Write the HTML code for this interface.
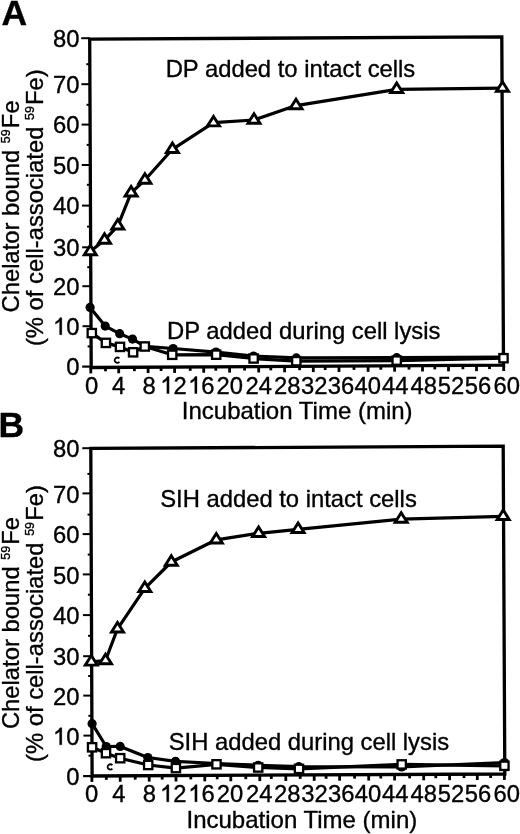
<!DOCTYPE html>
<html><head><meta charset="utf-8"><style>
html,body{margin:0;padding:0;background:#fff;}
svg{display:block;will-change:transform;}
text{font-family:"Liberation Sans", sans-serif;font-size:23.8px;fill:#000;stroke:#000;stroke-width:0.35px;}
</style></head><body>
<svg width="520" height="834" viewBox="0 0 520 834">
<rect width="520" height="834" fill="#fff"/>
<g><path d="M89.7 39.2 L501.8 36.8 L503.5 365.1 L91.2 367.5 Z" fill="none" stroke="#000" stroke-width="3.3" stroke-linejoin="miter"/>
<line x1="81.2" y1="38.2" x2="89.7" y2="38.2" stroke="#000" stroke-width="2"/>
<line x1="86.31" y1="64.2" x2="89.81" y2="64.2" stroke="#000" stroke-width="2"/>
<line x1="81.41" y1="84.2" x2="89.91" y2="84.2" stroke="#000" stroke-width="2"/>
<line x1="86.5" y1="104.8" x2="90" y2="104.8" stroke="#000" stroke-width="2"/>
<line x1="81.59" y1="124.6" x2="90.09" y2="124.6" stroke="#000" stroke-width="2"/>
<line x1="86.68" y1="144.9" x2="90.18" y2="144.9" stroke="#000" stroke-width="2"/>
<line x1="81.77" y1="165" x2="90.27" y2="165" stroke="#000" stroke-width="2"/>
<line x1="86.87" y1="184.8" x2="90.37" y2="184.8" stroke="#000" stroke-width="2"/>
<line x1="81.96" y1="205.6" x2="90.46" y2="205.6" stroke="#000" stroke-width="2"/>
<line x1="87.06" y1="226.6" x2="90.56" y2="226.6" stroke="#000" stroke-width="2"/>
<line x1="82.15" y1="247.3" x2="90.65" y2="247.3" stroke="#000" stroke-width="2"/>
<line x1="87.24" y1="267.2" x2="90.74" y2="267.2" stroke="#000" stroke-width="2"/>
<line x1="82.33" y1="286.2" x2="90.83" y2="286.2" stroke="#000" stroke-width="2"/>
<line x1="87.42" y1="306.3" x2="90.92" y2="306.3" stroke="#000" stroke-width="2"/>
<line x1="82.51" y1="326.2" x2="91.01" y2="326.2" stroke="#000" stroke-width="2"/>
<line x1="87.6" y1="346.4" x2="91.1" y2="346.4" stroke="#000" stroke-width="2"/>
<line x1="82.2" y1="366.6" x2="91.2" y2="366.6" stroke="#000" stroke-width="2.2"/>
<line x1="90.8" y1="367.9" x2="90.8" y2="373.4" stroke="#000" stroke-width="2.8"/>
<line x1="105.5" y1="367.82" x2="105.5" y2="371.32" stroke="#000" stroke-width="2.8"/>
<line x1="118.7" y1="367.74" x2="118.7" y2="373.24" stroke="#000" stroke-width="2.8"/>
<line x1="134.4" y1="367.65" x2="134.4" y2="371.15" stroke="#000" stroke-width="2.8"/>
<line x1="148.1" y1="367.57" x2="148.1" y2="373.07" stroke="#000" stroke-width="2.8"/>
<line x1="161.1" y1="367.49" x2="161.1" y2="370.99" stroke="#000" stroke-width="2.8"/>
<line x1="174.6" y1="367.41" x2="174.6" y2="372.91" stroke="#000" stroke-width="2.8"/>
<line x1="190.2" y1="367.32" x2="190.2" y2="370.82" stroke="#000" stroke-width="2.8"/>
<line x1="203.7" y1="367.25" x2="203.7" y2="372.75" stroke="#000" stroke-width="2.8"/>
<line x1="215.8" y1="367.17" x2="215.8" y2="370.67" stroke="#000" stroke-width="2.8"/>
<line x1="229.6" y1="367.09" x2="229.6" y2="372.59" stroke="#000" stroke-width="2.8"/>
<line x1="244.6" y1="367.01" x2="244.6" y2="370.51" stroke="#000" stroke-width="2.8"/>
<line x1="258.7" y1="366.92" x2="258.7" y2="372.42" stroke="#000" stroke-width="2.8"/>
<line x1="270.8" y1="366.85" x2="270.8" y2="370.35" stroke="#000" stroke-width="2.8"/>
<line x1="284.6" y1="366.77" x2="284.6" y2="372.27" stroke="#000" stroke-width="2.8"/>
<line x1="299.6" y1="366.69" x2="299.6" y2="370.19" stroke="#000" stroke-width="2.8"/>
<line x1="313.3" y1="366.61" x2="313.3" y2="372.11" stroke="#000" stroke-width="2.8"/>
<line x1="325.2" y1="366.54" x2="325.2" y2="370.04" stroke="#000" stroke-width="2.8"/>
<line x1="339" y1="366.46" x2="339" y2="371.96" stroke="#000" stroke-width="2.8"/>
<line x1="354" y1="366.37" x2="354" y2="369.87" stroke="#000" stroke-width="2.8"/>
<line x1="368.1" y1="366.29" x2="368.1" y2="371.79" stroke="#000" stroke-width="2.8"/>
<line x1="380.8" y1="366.21" x2="380.8" y2="369.71" stroke="#000" stroke-width="2.8"/>
<line x1="394.6" y1="366.13" x2="394.6" y2="371.63" stroke="#000" stroke-width="2.8"/>
<line x1="409" y1="366.05" x2="409" y2="369.55" stroke="#000" stroke-width="2.8"/>
<line x1="422.5" y1="365.97" x2="422.5" y2="371.47" stroke="#000" stroke-width="2.8"/>
<line x1="434.8" y1="365.9" x2="434.8" y2="369.4" stroke="#000" stroke-width="2.8"/>
<line x1="448.5" y1="365.82" x2="448.5" y2="371.32" stroke="#000" stroke-width="2.8"/>
<line x1="462.9" y1="365.74" x2="462.9" y2="369.24" stroke="#000" stroke-width="2.8"/>
<line x1="476.5" y1="365.66" x2="476.5" y2="371.16" stroke="#000" stroke-width="2.8"/>
<line x1="489.5" y1="365.58" x2="489.5" y2="369.08" stroke="#000" stroke-width="2.8"/>
<line x1="503.7" y1="365.5" x2="503.7" y2="371" stroke="#000" stroke-width="2.8"/>
<text x="52.93" y="46.7">80</text>
<text x="52.93" y="92.7">70</text>
<text x="52.93" y="133.1">60</text>
<text x="52.93" y="173.5">50</text>
<text x="52.93" y="214.1">40</text>
<text x="52.93" y="255.8">30</text>
<text x="52.93" y="294.7">20</text>
<path d="M61.81 334.7 L61.81 317.66 L59.96 317.66 Q58.88 320.42 55.53 321.97 L55.53 324.11 Q58.05 323.04 59.6 321.37 L59.6 334.7 Z" fill="#000" stroke="#000" stroke-width="0.35"/>
<text x="66.17" y="334.7">0</text>
<text x="66.17" y="375.1">0</text>
<text x="85.05" y="393.5">0</text>
<text x="112" y="393.5">4</text>
<text x="142.43" y="393.5">8</text>
<path d="M169.08 393.5 L169.08 376.46 L167.23 376.46 Q166.16 379.22 162.8 380.77 L162.8 382.91 Q165.32 381.84 166.87 380.17 L166.87 393.5 Z" fill="#000" stroke="#000" stroke-width="0.35"/>
<text x="173.44" y="393.5">2</text>
<path d="M196.98 393.5 L196.98 376.46 L195.13 376.46 Q194.06 379.22 190.7 380.77 L190.7 382.91 Q193.22 381.84 194.77 380.17 L194.77 393.5 Z" fill="#000" stroke="#000" stroke-width="0.35"/>
<text x="201.34" y="393.5">6</text>
<text x="216.61" y="393.5">20</text>
<text x="245.61" y="393.5">24</text>
<text x="274.01" y="393.5">28</text>
<text x="301.05" y="393.5">32</text>
<text x="327.75" y="393.5">36</text>
<text x="354.6" y="393.5">40</text>
<text x="382.1" y="393.5">44</text>
<text x="410.4" y="393.5">48</text>
<text x="437.75" y="393.5">52</text>
<text x="464.85" y="393.5">56</text>
<text x="493.41" y="393.5">60</text>
<text x="181.8" y="418.7" style="font-size:24px">Incubation Time (min)</text>
<text transform="translate(18.9 312.5) rotate(-90)" style="font-size:23.8px">Chelator bound <tspan font-size="12.5" dy="-8.8">59</tspan><tspan dx="1.1" dy="8.8">Fe</tspan></text>
<text transform="translate(42.6 346.1) rotate(-90)" style="font-size:23.8px">(% of cell-associated <tspan font-size="12.5" dy="-8.8">59</tspan><tspan dx="1.1" dy="8.8">Fe)</tspan></text>
<text x="1.6" y="25.1" style="font-weight:bold;font-size:35.5px">A</text>
<text x="165.7" y="77.3">DP added to intact cells</text>
<text x="167" y="339.2">DP added during cell lysis</text>
<path d="M119.44 358.49 A2.75 2.55 0 1 0 119.44 361.91" fill="none" stroke="#000" stroke-width="1.8"/>
<polyline points="90.3,251.6 104.5,240.1 117.8,225.8 131.1,192.8 144.9,180 172.4,149.3 213.5,122.7 254,120 296,105.6 396.7,89.3 502.5,88.1" fill="none" stroke="#000" stroke-width="3.2" stroke-linejoin="round"/>
<polyline points="90.1,307.4 105.2,326.1 119.7,333.7 132.5,339.1 145,346.3 173.2,348.5 216,352.1 253.6,356 296.3,357.9 396.7,357.7 503.5,357.2" fill="none" stroke="#000" stroke-width="3.2" stroke-linejoin="round"/>
<polyline points="91.8,333.1 105.9,342.9 120,346.9 133.1,352.3 144.8,346.5 172.2,354.8 216.2,354.7 253.6,358.5 296.3,361.2 396.7,360.6 503.5,358.2" fill="none" stroke="#000" stroke-width="3.2" stroke-linejoin="round"/>
<circle cx="90.1" cy="307.4" r="4.6" fill="#000"/>
<circle cx="105.2" cy="326.1" r="4.6" fill="#000"/>
<circle cx="119.7" cy="333.7" r="4.6" fill="#000"/>
<circle cx="132.5" cy="339.1" r="4.6" fill="#000"/>
<circle cx="145" cy="346.3" r="4.6" fill="#000"/>
<circle cx="173.2" cy="348.5" r="4.6" fill="#000"/>
<circle cx="216" cy="352.1" r="4.6" fill="#000"/>
<circle cx="253.6" cy="356" r="4.6" fill="#000"/>
<circle cx="296.3" cy="357.9" r="4.6" fill="#000"/>
<circle cx="396.7" cy="357.7" r="4.6" fill="#000"/>
<circle cx="503.5" cy="357.2" r="4.6" fill="#000"/>
<rect x="87.65" y="328.95" width="8.3" height="8.3" fill="#fff" stroke="#000" stroke-width="2.3"/>
<rect x="101.75" y="338.75" width="8.3" height="8.3" fill="#fff" stroke="#000" stroke-width="2.3"/>
<rect x="115.85" y="342.75" width="8.3" height="8.3" fill="#fff" stroke="#000" stroke-width="2.3"/>
<rect x="128.95" y="348.15" width="8.3" height="8.3" fill="#fff" stroke="#000" stroke-width="2.3"/>
<rect x="140.65" y="342.35" width="8.3" height="8.3" fill="#fff" stroke="#000" stroke-width="2.3"/>
<rect x="168.05" y="350.65" width="8.3" height="8.3" fill="#fff" stroke="#000" stroke-width="2.3"/>
<rect x="212.05" y="350.55" width="8.3" height="8.3" fill="#fff" stroke="#000" stroke-width="2.3"/>
<rect x="249.45" y="354.35" width="8.3" height="8.3" fill="#fff" stroke="#000" stroke-width="2.3"/>
<rect x="292.15" y="357.05" width="8.3" height="8.3" fill="#fff" stroke="#000" stroke-width="2.3"/>
<rect x="392.55" y="356.45" width="8.3" height="8.3" fill="#fff" stroke="#000" stroke-width="2.3"/>
<rect x="499.35" y="354.05" width="8.3" height="8.3" fill="#fff" stroke="#000" stroke-width="2.3"/>
<path d="M90.3 245.3 L96.3 254.8 L84.3 254.8 Z" fill="#fff" stroke="#000" stroke-width="2.9" stroke-linejoin="miter"/>
<path d="M104.5 233.8 L110.5 243.3 L98.5 243.3 Z" fill="#fff" stroke="#000" stroke-width="2.9" stroke-linejoin="miter"/>
<path d="M117.8 219.5 L123.8 229 L111.8 229 Z" fill="#fff" stroke="#000" stroke-width="2.9" stroke-linejoin="miter"/>
<path d="M131.1 186.5 L137.1 196 L125.1 196 Z" fill="#fff" stroke="#000" stroke-width="2.9" stroke-linejoin="miter"/>
<path d="M144.9 173.7 L150.9 183.2 L138.9 183.2 Z" fill="#fff" stroke="#000" stroke-width="2.9" stroke-linejoin="miter"/>
<path d="M172.4 143 L178.4 152.5 L166.4 152.5 Z" fill="#fff" stroke="#000" stroke-width="2.9" stroke-linejoin="miter"/>
<path d="M213.5 116.4 L219.5 125.9 L207.5 125.9 Z" fill="#fff" stroke="#000" stroke-width="2.9" stroke-linejoin="miter"/>
<path d="M254 113.7 L260 123.2 L248 123.2 Z" fill="#fff" stroke="#000" stroke-width="2.9" stroke-linejoin="miter"/>
<path d="M296 99.3 L302 108.8 L290 108.8 Z" fill="#fff" stroke="#000" stroke-width="2.9" stroke-linejoin="miter"/>
<path d="M396.7 83 L402.7 92.5 L390.7 92.5 Z" fill="#fff" stroke="#000" stroke-width="2.9" stroke-linejoin="miter"/>
<path d="M502.5 81.8 L508.5 91.3 L496.5 91.3 Z" fill="#fff" stroke="#000" stroke-width="2.9" stroke-linejoin="miter"/></g>
<g><path d="M90.8 448.4 L503.2 446.2 L504.8 774 L92.1 776 Z" fill="none" stroke="#000" stroke-width="3.3" stroke-linejoin="miter"/>
<line x1="82.3" y1="448.2" x2="90.8" y2="448.2" stroke="#000" stroke-width="2"/>
<line x1="87.4" y1="473.9" x2="90.9" y2="473.9" stroke="#000" stroke-width="2"/>
<line x1="82.48" y1="493.4" x2="90.98" y2="493.4" stroke="#000" stroke-width="2"/>
<line x1="87.56" y1="514.6" x2="91.06" y2="514.6" stroke="#000" stroke-width="2"/>
<line x1="82.64" y1="534.1" x2="91.14" y2="534.1" stroke="#000" stroke-width="2"/>
<line x1="87.72" y1="554.6" x2="91.22" y2="554.6" stroke="#000" stroke-width="2"/>
<line x1="82.8" y1="574.4" x2="91.3" y2="574.4" stroke="#000" stroke-width="2"/>
<line x1="87.88" y1="594.7" x2="91.38" y2="594.7" stroke="#000" stroke-width="2"/>
<line x1="82.96" y1="615.1" x2="91.46" y2="615.1" stroke="#000" stroke-width="2"/>
<line x1="88.04" y1="635.8" x2="91.54" y2="635.8" stroke="#000" stroke-width="2"/>
<line x1="83.12" y1="656.2" x2="91.62" y2="656.2" stroke="#000" stroke-width="2"/>
<line x1="88.2" y1="676" x2="91.7" y2="676" stroke="#000" stroke-width="2"/>
<line x1="83.28" y1="695.6" x2="91.78" y2="695.6" stroke="#000" stroke-width="2"/>
<line x1="88.36" y1="715.8" x2="91.86" y2="715.8" stroke="#000" stroke-width="2"/>
<line x1="83.44" y1="735.6" x2="91.94" y2="735.6" stroke="#000" stroke-width="2"/>
<line x1="88.52" y1="755.7" x2="92.02" y2="755.7" stroke="#000" stroke-width="2"/>
<line x1="83.1" y1="776.1" x2="92.1" y2="776.1" stroke="#000" stroke-width="2.2"/>
<line x1="91.9" y1="776.4" x2="91.9" y2="781.9" stroke="#000" stroke-width="2.8"/>
<line x1="106.3" y1="776.33" x2="106.3" y2="779.83" stroke="#000" stroke-width="2.8"/>
<line x1="120.2" y1="776.26" x2="120.2" y2="781.76" stroke="#000" stroke-width="2.8"/>
<line x1="135.2" y1="776.19" x2="135.2" y2="779.69" stroke="#000" stroke-width="2.8"/>
<line x1="149.2" y1="776.12" x2="149.2" y2="781.62" stroke="#000" stroke-width="2.8"/>
<line x1="162.2" y1="776.06" x2="162.2" y2="779.56" stroke="#000" stroke-width="2.8"/>
<line x1="176" y1="775.99" x2="176" y2="781.49" stroke="#000" stroke-width="2.8"/>
<line x1="190.8" y1="775.92" x2="190.8" y2="779.42" stroke="#000" stroke-width="2.8"/>
<line x1="204.8" y1="775.85" x2="204.8" y2="781.35" stroke="#000" stroke-width="2.8"/>
<line x1="217.2" y1="775.79" x2="217.2" y2="779.29" stroke="#000" stroke-width="2.8"/>
<line x1="230.8" y1="775.73" x2="230.8" y2="781.23" stroke="#000" stroke-width="2.8"/>
<line x1="245.8" y1="775.66" x2="245.8" y2="779.16" stroke="#000" stroke-width="2.8"/>
<line x1="259.8" y1="775.59" x2="259.8" y2="781.09" stroke="#000" stroke-width="2.8"/>
<line x1="271.3" y1="775.53" x2="271.3" y2="779.03" stroke="#000" stroke-width="2.8"/>
<line x1="285.8" y1="775.46" x2="285.8" y2="780.96" stroke="#000" stroke-width="2.8"/>
<line x1="300.2" y1="775.39" x2="300.2" y2="778.89" stroke="#000" stroke-width="2.8"/>
<line x1="314.2" y1="775.32" x2="314.2" y2="780.82" stroke="#000" stroke-width="2.8"/>
<line x1="326.1" y1="775.27" x2="326.1" y2="778.77" stroke="#000" stroke-width="2.8"/>
<line x1="339.6" y1="775.2" x2="339.6" y2="780.7" stroke="#000" stroke-width="2.8"/>
<line x1="354.6" y1="775.13" x2="354.6" y2="778.63" stroke="#000" stroke-width="2.8"/>
<line x1="368.7" y1="775.06" x2="368.7" y2="780.56" stroke="#000" stroke-width="2.8"/>
<line x1="380.8" y1="775" x2="380.8" y2="778.5" stroke="#000" stroke-width="2.8"/>
<line x1="394.6" y1="774.93" x2="394.6" y2="780.43" stroke="#000" stroke-width="2.8"/>
<line x1="409.6" y1="774.86" x2="409.6" y2="778.36" stroke="#000" stroke-width="2.8"/>
<line x1="423.7" y1="774.79" x2="423.7" y2="780.29" stroke="#000" stroke-width="2.8"/>
<line x1="435.8" y1="774.73" x2="435.8" y2="778.23" stroke="#000" stroke-width="2.8"/>
<line x1="449.6" y1="774.67" x2="449.6" y2="780.17" stroke="#000" stroke-width="2.8"/>
<line x1="464" y1="774.6" x2="464" y2="778.1" stroke="#000" stroke-width="2.8"/>
<line x1="477.3" y1="774.53" x2="477.3" y2="780.03" stroke="#000" stroke-width="2.8"/>
<line x1="490.6" y1="774.47" x2="490.6" y2="777.97" stroke="#000" stroke-width="2.8"/>
<line x1="504.4" y1="774.4" x2="504.4" y2="779.9" stroke="#000" stroke-width="2.8"/>
<text x="52.93" y="457.4">80</text>
<text x="52.93" y="502.6">70</text>
<text x="52.93" y="543.3">60</text>
<text x="52.93" y="583.6">50</text>
<text x="52.93" y="624.3">40</text>
<text x="52.93" y="665.4">30</text>
<text x="52.93" y="704.8">20</text>
<path d="M61.81 744.8 L61.81 727.76 L59.96 727.76 Q58.88 730.52 55.53 732.07 L55.53 734.21 Q58.05 733.14 59.6 731.47 L59.6 744.8 Z" fill="#000" stroke="#000" stroke-width="0.35"/>
<text x="66.17" y="744.8">0</text>
<text x="66.17" y="785.3">0</text>
<text x="85.05" y="801.8">0</text>
<text x="112.2" y="801.8">4</text>
<text x="142.73" y="801.8">8</text>
<path d="M168.88 801.8 L168.88 784.76 L167.03 784.76 Q165.96 787.52 162.6 789.07 L162.6 791.21 Q165.12 790.14 166.67 788.47 L166.67 801.8 Z" fill="#000" stroke="#000" stroke-width="0.35"/>
<text x="173.24" y="801.8">2</text>
<path d="M197.08 801.8 L197.08 784.76 L195.23 784.76 Q194.16 787.52 190.8 789.07 L190.8 791.21 Q193.32 790.14 194.87 788.47 L194.87 801.8 Z" fill="#000" stroke="#000" stroke-width="0.35"/>
<text x="201.44" y="801.8">6</text>
<text x="216.71" y="801.8">20</text>
<text x="245.91" y="801.8">24</text>
<text x="273.91" y="801.8">28</text>
<text x="301.15" y="801.8">32</text>
<text x="327.95" y="801.8">36</text>
<text x="354.7" y="801.8">40</text>
<text x="382.1" y="801.8">44</text>
<text x="410.4" y="801.8">48</text>
<text x="437.75" y="801.8">52</text>
<text x="464.85" y="801.8">56</text>
<text x="493.41" y="801.8">60</text>
<text x="186.5" y="827.7" style="font-size:24px">Incubation Time (min)</text>
<text transform="translate(18.9 729.1) rotate(-90)" style="font-size:23.8px">Chelator bound <tspan font-size="12.5" dy="-8.8">59</tspan><tspan dx="1.1" dy="8.8">Fe</tspan></text>
<text transform="translate(42.6 762) rotate(-90)" style="font-size:23.8px">(% of cell-associated <tspan font-size="12.5" dy="-8.8">59</tspan><tspan dx="1.1" dy="8.8">Fe)</tspan></text>
<text x="-1.5" y="437.2" style="font-weight:bold;font-size:35.5px">B</text>
<text x="160.2" y="506.9">SIH added to intact cells</text>
<text x="168.7" y="749.8">SIH added during cell lysis</text>
<path d="M112.39 765.24 A2.75 2.55 0 1 0 112.39 768.66" fill="none" stroke="#000" stroke-width="1.8"/>
<polyline points="91.3,661.9 105.5,660.5 117.5,628.8 144.8,588.3 171.3,562 216.3,539.8 258.6,533.3 298.1,529.3 401.2,519.1 503.2,516.3" fill="none" stroke="#000" stroke-width="3.2" stroke-linejoin="round"/>
<polyline points="92.1,723.7 106.2,746.5 120.2,746.4 147.8,757.5 175.5,761.3 216.5,763.5 258.2,765.3 298.8,766.7 401.7,767 504.4,762.5" fill="none" stroke="#000" stroke-width="3.2" stroke-linejoin="round"/>
<polyline points="92.1,747.3 106,753.2 120.2,758.2 148.2,765 175.9,768.1 216.5,764.3 258.2,767.5 299,768.9 401.7,764.4 504.4,765.8" fill="none" stroke="#000" stroke-width="3.2" stroke-linejoin="round"/>
<circle cx="92.1" cy="723.7" r="4.6" fill="#000"/>
<circle cx="106.2" cy="746.5" r="4.6" fill="#000"/>
<circle cx="120.2" cy="746.4" r="4.6" fill="#000"/>
<circle cx="147.8" cy="757.5" r="4.6" fill="#000"/>
<circle cx="175.5" cy="761.3" r="4.6" fill="#000"/>
<circle cx="216.5" cy="763.5" r="4.6" fill="#000"/>
<circle cx="258.2" cy="765.3" r="4.6" fill="#000"/>
<circle cx="298.8" cy="766.7" r="4.6" fill="#000"/>
<circle cx="401.7" cy="767" r="4.6" fill="#000"/>
<circle cx="504.4" cy="762.5" r="4.6" fill="#000"/>
<rect x="87.95" y="743.15" width="8.3" height="8.3" fill="#fff" stroke="#000" stroke-width="2.3"/>
<rect x="101.85" y="749.05" width="8.3" height="8.3" fill="#fff" stroke="#000" stroke-width="2.3"/>
<rect x="116.05" y="754.05" width="8.3" height="8.3" fill="#fff" stroke="#000" stroke-width="2.3"/>
<rect x="144.05" y="760.85" width="8.3" height="8.3" fill="#fff" stroke="#000" stroke-width="2.3"/>
<rect x="171.75" y="763.95" width="8.3" height="8.3" fill="#fff" stroke="#000" stroke-width="2.3"/>
<rect x="212.35" y="760.15" width="8.3" height="8.3" fill="#fff" stroke="#000" stroke-width="2.3"/>
<rect x="254.05" y="763.35" width="8.3" height="8.3" fill="#fff" stroke="#000" stroke-width="2.3"/>
<rect x="294.85" y="764.75" width="8.3" height="8.3" fill="#fff" stroke="#000" stroke-width="2.3"/>
<rect x="397.55" y="760.25" width="8.3" height="8.3" fill="#fff" stroke="#000" stroke-width="2.3"/>
<rect x="500.25" y="761.65" width="8.3" height="8.3" fill="#fff" stroke="#000" stroke-width="2.3"/>
<path d="M91.3 655.6 L97.3 665.1 L85.3 665.1 Z" fill="#fff" stroke="#000" stroke-width="2.9" stroke-linejoin="miter"/>
<path d="M105.5 654.2 L111.5 663.7 L99.5 663.7 Z" fill="#fff" stroke="#000" stroke-width="2.9" stroke-linejoin="miter"/>
<path d="M117.5 622.5 L123.5 632 L111.5 632 Z" fill="#fff" stroke="#000" stroke-width="2.9" stroke-linejoin="miter"/>
<path d="M144.8 582 L150.8 591.5 L138.8 591.5 Z" fill="#fff" stroke="#000" stroke-width="2.9" stroke-linejoin="miter"/>
<path d="M171.3 555.7 L177.3 565.2 L165.3 565.2 Z" fill="#fff" stroke="#000" stroke-width="2.9" stroke-linejoin="miter"/>
<path d="M216.3 533.5 L222.3 543 L210.3 543 Z" fill="#fff" stroke="#000" stroke-width="2.9" stroke-linejoin="miter"/>
<path d="M258.6 527 L264.6 536.5 L252.6 536.5 Z" fill="#fff" stroke="#000" stroke-width="2.9" stroke-linejoin="miter"/>
<path d="M298.1 523 L304.1 532.5 L292.1 532.5 Z" fill="#fff" stroke="#000" stroke-width="2.9" stroke-linejoin="miter"/>
<path d="M401.2 512.8 L407.2 522.3 L395.2 522.3 Z" fill="#fff" stroke="#000" stroke-width="2.9" stroke-linejoin="miter"/>
<path d="M503.2 510 L509.2 519.5 L497.2 519.5 Z" fill="#fff" stroke="#000" stroke-width="2.9" stroke-linejoin="miter"/></g>
</svg>
</body></html>
